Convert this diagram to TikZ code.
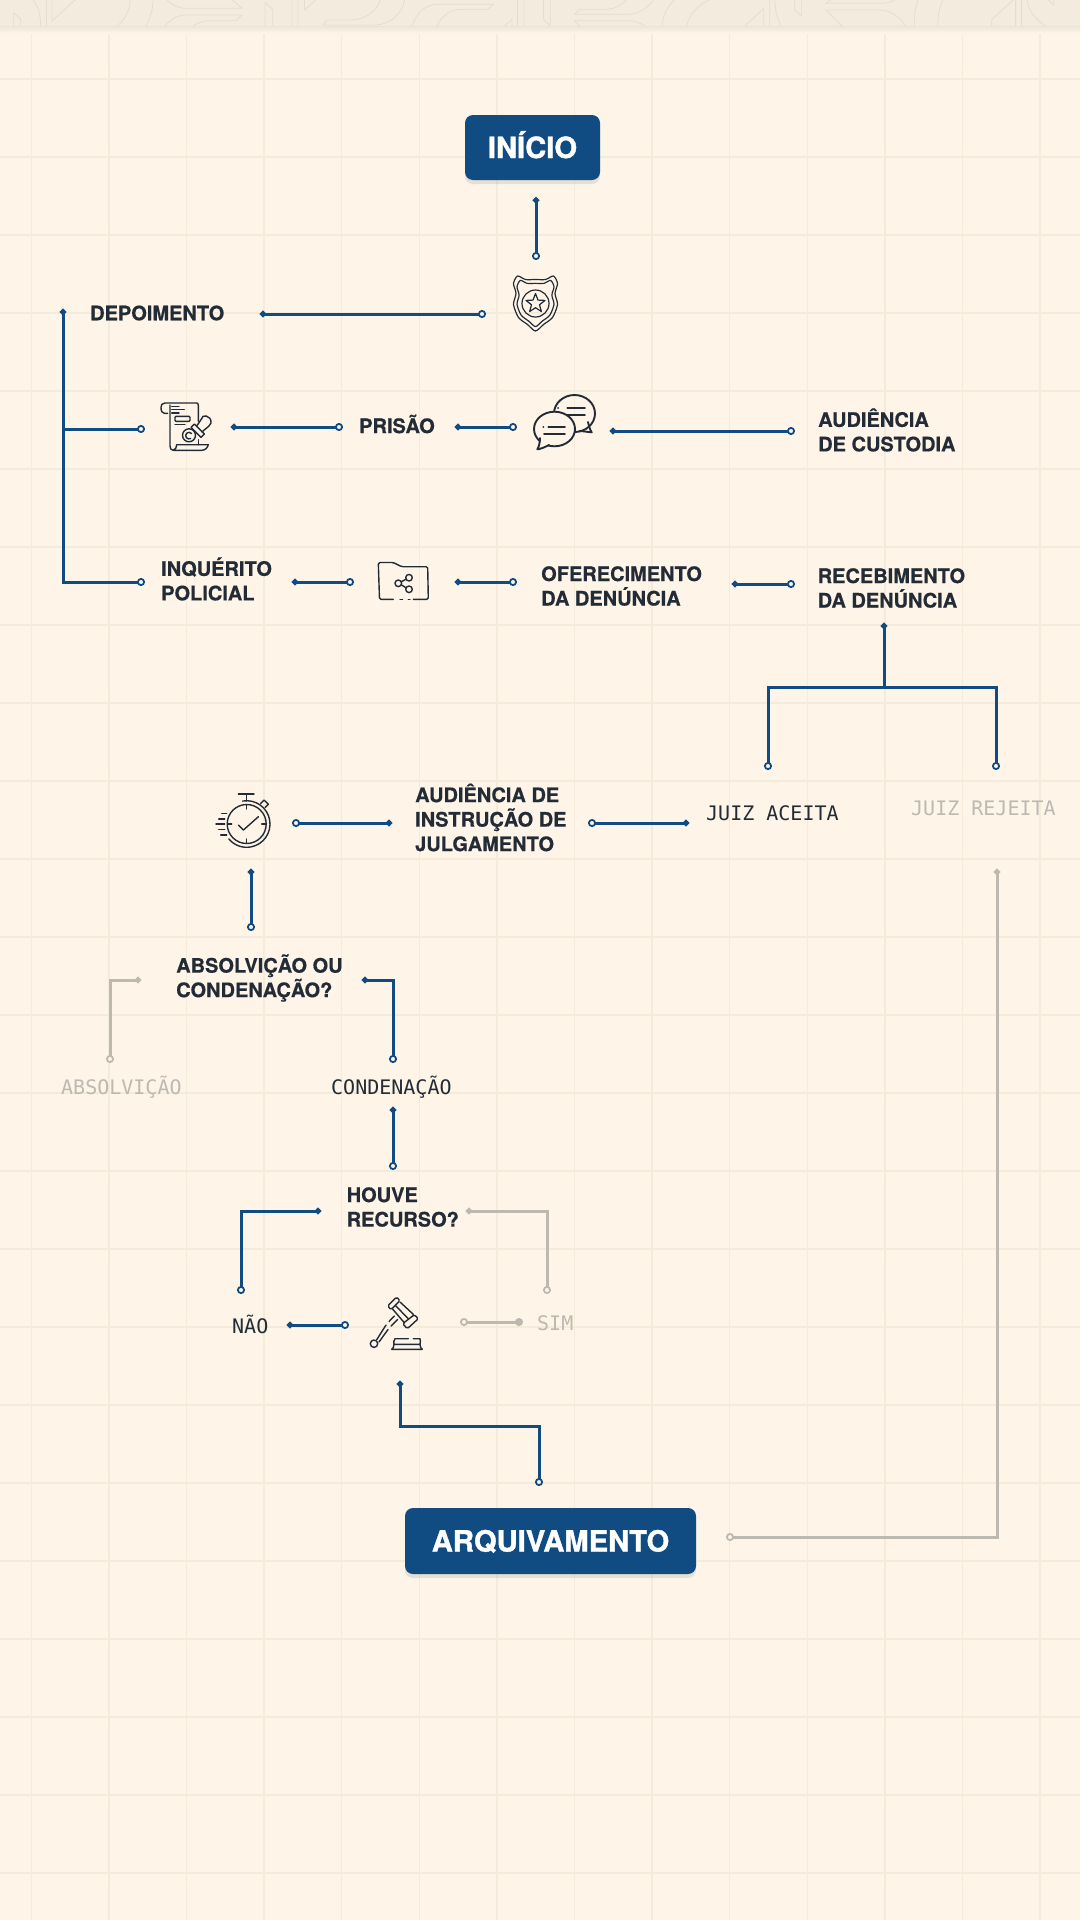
\documentclass[tikz,border=0pt]{standalone}
\usepackage{fontspec}
\setmainfont{TeX Gyre Heros}[BoldFeatures={FakeBold=.5}]
\newfontfamily\heavyfont{TeX Gyre Heros}[BoldFeatures={FakeBold=1.3}]
\setmonofont{DejaVu Sans Mono}
\usetikzlibrary{arrows.meta, shadows}

\definecolor{paper}{HTML}{FEF5E8}
\definecolor{band}{HTML}{F3EBDD}
\definecolor{bandline}{HTML}{E6DDD1}
\definecolor{gridline}{HTML}{F5EBDB}
\definecolor{ink}{HTML}{232C36}
\definecolor{navy}{HTML}{104C82}
\definecolor{mute}{HTML}{BDB9B1}

\tikzset{
	wire/.style={line width=3pt, navy, shorten <=-3pt, shorten >=-4pt,
		{Circle[length=6pt, width=6pt]}-{Circle[open, length=8pt, width=8pt, line width=1.8pt, fill=paper]}},
	wiretail/.style={line width=3pt, navy, shorten >=-4pt,
		-{Circle[open, length=8pt, width=8pt, line width=1.8pt, fill=paper]}},
	off/.style={draw=mute, color=mute},
	lab/.style={anchor=west, inner sep=0pt, align=left, text=ink, font=\bfseries\fontsize{20}{24.5}\selectfont},
	code/.style={anchor=west, inner sep=0pt, text=ink, font=\ttfamily\fontsize{20}{24}\selectfont},
	faded/.style={text=mute},
	endbox/.style={fill=navy, rounded corners=8pt, inner sep=0pt, text=white, text height=21pt, text depth=0pt,
		font=\heavyfont\bfseries\fontsize{29.2}{32}\selectfont,
		drop shadow={shadow xshift=0pt, shadow yshift=-4pt, opacity=.18}},
	icon/.style={inner sep=0pt, minimum size=50pt},
	ico/.style={draw=ink, line width=1.4pt, line cap=round, line join=round},
	badgeicon/.pic={
		\foreach \s in {1,.84}
			\draw[ico, line width=1.2pt, scale=\s] plot[smooth cycle, tension=.45] coordinates {(0,-24)(-10,-24)(-18,-27.5)(-22,-20)(-19.5,-10)(-22,1)(-17,14)(-8,21)(0,27.5)(8,21)(17,14)(22,1)(19.5,-10)(22,-20)(18,-27.5)(10,-24)};
		\draw[ico, line width=1.2pt] (0,0) circle (13.5pt);
		\draw[ico, line width=1.2pt] (0,-10) -- (2.5,-3.4) -- (9.5,-3.1) -- (4,1.3) -- (5.9,8.1) -- (0,4.2) -- (-5.9,8.1) -- (-4,1.3) -- (-9.5,-3.1) -- (-2.5,-3.4) -- cycle;
	},
	scrollicon/.pic={
		\draw[ico] (12.3,-6.7) -- (12.3,-22.7) .. controls (12.3,-24.5) and (11.5,-25) .. (10.7,-25) -- (-21,-25) .. controls (-24,-25) and (-25,-23) .. (-25,-20.7) .. controls (-25,-17) and (-24,-14.7) .. (-21.7,-14.7) -- (-18.3,-14.7);
		\draw[ico] (-16,-23) -- (-16,18) .. controls (-16,20.5) and (-15,22.3) .. (-12.7,22.3) -- (15.7,22.3) .. controls (19,22.3) and (21.5,20) .. (22.3,16.7) -- (-9.3,16.7) .. controls (-9.3,19) and (-10.5,21.5) .. (-12.7,22.3);
		\draw[ico] (12.3,11.7) -- (12.3,16.7);
		\draw[ico] (-14.3,-21.7) -- (-7,-21.7) (-14.3,-18.3) -- (-1.7,-18.3) (-14.3,-15) -- (-7,-15);
		\draw[ico, rounded corners=1pt] (-11,-11.7) rectangle (4,-6.7);
		\draw[ico] (-11,-3.3) -- (-1,-3.3);
		\draw[ico] (3,7.3) circle (6.5pt) (5.5,5.5) arc[start angle=40, end angle=300, radius=3.3pt];
		\draw[ico, fill=paper] (5,-0.7) -- (8.3,-4) -- (18.3,6) -- (15,9.3) -- cycle;
		\draw[ico] (10.7,-2) -- (15.7,-9.3) .. controls (15,-14) and (26,-13) .. (25,-5) .. controls (24.5,-2) and (22,-1.7) .. (16,4);
	},
	chaticon/.pic={
		\draw[ico, line width=1.9pt] (24,0) .. controls (25,4) and (26,8) .. (27.7,10.3) .. controls (23,10) and (19,9) .. (15.5,9);
		\draw[ico, line width=1.9pt] (10.5,-8.5) ellipse [x radius=20.5pt, y radius=18.5pt];
		\draw[ico, line width=1.9pt, fill=paper] (-9.5,7) ellipse [x radius=20.5pt, y radius=17.3pt];
		\draw[ico, line width=1.9pt, fill=paper] (-24,16) .. controls (-24,20) and (-25,25) .. (-26.7,27.3) .. controls (-23,27) and (-19,25) .. (-15,23);
		\draw[ico, line width=1.9pt] (-6,-13.7) -- (-5.8,-13.7) (3.3,-13.7) -- (21,-13.7) (3.3,-7) -- (21,-7);
		\draw[ico, line width=1.9pt] (-20.7,5.3) -- (-20.5,5.3) (-15.7,5.3) -- (1,5.3) (-20,12) -- (1,12);
	},
	foldericon/.pic={
		\draw[ico, rounded corners=1.5pt] (-10.7,17.3) -- (-24.5,17.3) -- (-25.7,-19.5) -- (-10.7,-19.5) -- (-2.3,-15.3) -- (23.7,-15.3) -- (24.3,17.3) -- (9.3,17.3);
		\draw[ico] (-4,17.3) -- (-1.5,17.3) (4.3,17.3) -- (6,17.3);
		\draw[ico] (-5.7,1.3) circle (3.3pt) (5,-4.3) circle (3.3pt) (5,7.3) circle (3.3pt);
		\draw[ico] (-2.8,-.2) -- (2.1,-2.8) (-2.8,2.8) -- (2.1,5.8);
	},
	watchicon/.pic={
		\draw[ico] (0,0) circle (19.5pt);
		\draw[ico] (100:23.3pt) arc[start angle=100, end angle=-140, radius=23.3pt];
		\draw[ico] (0,-19) -- (0,-15) (15,0) -- (19,0) (0,15) -- (0,19) (-19,0) -- (-15,0);
		\draw[ico] (-8.3,1) -- (-3.3,6) -- (11.7,-7.3);
		\draw[ico] (0,-23) -- (0,-30) (-8.3,-30) -- (7.3,-30);
		\draw[ico] (14,-20.7) -- (17.3,-24) -- (21.7,-19.7) -- (18.3,-16.3);
		\draw[ico] (-25,-10.7) -- (-20,-10.7) (-28,-5) -- (-22,-5) (-30.7,0) -- (-22,0) (-28,5.3) -- (-22,5.3) (-26,11) -- (-20,11);
	},
	gavelicon/.pic={
		\draw[ico, rounded corners=1.5pt] (-8.3,-16.5) -- (.7,-25.5) -- (4,-21.8) -- (-5,-12.8) -- cycle;
		\draw[ico, rounded corners=1.5pt] (6.7,1.2) -- (18.3,-7.8) -- (22.3,-3.8) -- (11.3,6.2) -- cycle;
		\draw[ico] (-3.7,-13.8) -- (8.3,0.2) (4,-20.5) -- (17.7,-7.8) (-.5,-17) -- (12.5,-3.5);
		\draw[ico] (-1.7,-6.5) -- (-7,-1) (-10,2.5) -- (-19.3,17.2) (1.7,-3.2) -- (-5,3.5) (-8,7) -- (-17,19.5);
		\draw[ico] (-22,21.2) circle (3.7pt);
		\draw[ico] (12.3,16.2) -- (-1,16.2) .. controls (-2.5,18) and (-2.5,20) .. (-2,21.8) -- (24,21.8) .. controls (24.5,20) and (24.5,18) .. (24,16.2) -- (17.3,16.2);
		\draw[ico] (-2,21.8) .. controls (-2,24) and (-3,26) .. (-4.3,26.8) -- (26.3,26.8) .. controls (25,26) and (24,24) .. (24,21.8);
	},
}

\begin{document}
\begin{tikzpicture}[x=1pt, y=-1pt]
	\useasboundingbox (0,0) rectangle (1080,1920);
	\fill[paper] (0,0) rectangle (1080,1920);

	% squared paper
	\foreach \i in {0,...,13}
		\draw[gridline, line width=1.3pt] (31.3+77.6*\i,0) -- (31.3+77.6*\i,1920);
	\foreach \i in {0,...,23}
		\draw[gridline, line width=1.3pt] (0,79+78*\i) -- (1080,79+78*\i);

	% top band
	\shade[top color=band!90!black!50!paper, bottom color=paper] (0,26) rectangle (1080,33);
	\fill[band] (0,0) rectangle (1080,26);
	\begin{scope}[draw=bandline, line width=.8pt]
		\clip (0,0) rectangle (1080,26);
		\draw (13.8,26) -- (13.8,13) -- (20.7,19) -- (20.7,26);
		\draw (33,0) .. controls (38,6) and (40.6,14) .. (40.6,26);
		\draw (46.5,0) -- (46.5,26) (52,0) -- (52,21) -- (75,0);
		\draw (130,0) .. controls (130,10) and (125,20) .. (117,26);
		\draw (153,0) .. controls (153,10) and (150,18) .. (146,26);
		\draw (167,0) .. controls (172,5) and (178,8.3) .. (186,8.3) -- (242,8.3) -- (232.5,0);
		\draw (165,26) .. controls (170,20) and (177,15) .. (186,15) -- (242,15) -- (236,20.7) -- (210,20.7) .. controls (203,20.7) and (198,23) .. (193,26);
		\draw (265,26) -- (265,2.7) -- (272.7,9.3) -- (272.7,26);
		\draw (292,0) -- (292,26) (298,0) -- (298,26) (304.4,0) -- (304.4,10) -- (315.8,0);
		\draw (380.5,0) .. controls (376,12) and (364,20) .. (351,20) -- (327,20) -- (322.6,25) -- (375,25) .. controls (391,25) and (403,12) .. (404.6,0);
		\draw (412,26) .. controls (416,13) and (426,4.3) .. (437,4.3) -- (493.5,4.3) -- (488,9.3) -- (461,9.3) .. controls (450,9.3) and (441,17) .. (437,26);
		\draw (504.5,26) -- (512,19.3) -- (512,26) (517.6,0) -- (517.6,26) (524,0) -- (524,26);
		\draw (543.4,0) -- (543.4,19) -- (550.3,26) (550.3,0) -- (550.3,26);
		\draw (626,0) .. controls (621,6) and (613,9.3) .. (605.4,9.3) -- (579.6,9.3) -- (574.4,14.3) -- (627.8,14.3) .. controls (638,14.3) and (648,8) .. (653.6,0);
		\draw (579.6,26) -- (574.4,20.7) -- (629.5,20.7) .. controls (635,20.7) and (640,23) .. (645,26);
		\draw (674.3,0) .. controls (668,6) and (662.2,15) .. (662.2,26);
		\draw (708.7,0) .. controls (697,6) and (690,14) .. (686.4,26);
		\draw (744.9,26) -- (763.8,8.3) -- (763.8,26) (769.7,0) -- (769.7,26);
		\draw (775,0) .. controls (775,10) and (777,18) .. (781,26);
		\draw (794.8,0) -- (794.8,10) -- (801.7,16) -- (801.7,0);
		\draw (831,0) -- (825.8,3.3) -- (880.9,3.3) .. controls (886,3.3) and (891,2) .. (894.7,0);
		\draw (842.3,26) -- (825.8,10) -- (879.2,10) .. controls (890,10) and (900,17) .. (905.7,26);
		\draw (917.8,0) .. controls (915,8) and (914.3,17) .. (914.3,26);
		\draw (943,0) .. controls (939,8) and (937.7,17) .. (937.7,26);
		\draw (1013.5,0) -- (991.8,19.3) -- (991.8,26) (1015.6,0) -- (1015.6,26) (1021.4,0) -- (1021.4,26);
		\draw (1027.3,0) .. controls (1028,10) and (1035,20) .. (1046,26);
		\draw (1048,0) -- (1053.8,5) -- (1053.8,0);
	\end{scope}
	\draw[bandline!60!band, line width=.8pt] (0,26) -- (1080,26);

	\node[endbox, minimum width=135pt, minimum height=65pt] (inicio) at (532.5,147.5) {INÍCIO};
	\node[endbox, minimum width=291pt, minimum height=66pt] (arquiv) at (550.5,1541) {ARQUIVAMENTO};

	\node[lab] (depo) at (90,313) {DEPOIMENTO};
	\node[lab] (prisao) at (359,424) {PRISÃO};
	\node[lab] (custodia) at (818,430) {AUDIÊNCIA\\DE CUSTODIA};
	\node[lab] (inquerito) at (161,579) {INQUÉRITO\\POLICIAL};
	\node[lab] (ofer) at (541,586) {OFERECIMENTO\\DA DENÚNCIA};
	\node[lab] (receb) at (817.5,588) {RECEBIMENTO\\DA DENÚNCIA};
	\node[lab] (instrucao) at (415,817.5) {AUDIÊNCIA DE\\INSTRUÇÃO DE\\JULGAMENTO};
	\node[lab] (absolcond) at (176,978) {ABSOLVIÇÃO OU\\CONDENAÇÃO?};
	\node[lab] (recurso) at (346.5,1207) {HOUVE\\RECURSO?};

	\node[code] (aceita) at (706,813) {JUIZ ACEITA};
	\node[code, faded] (rejeita) at (911,808) {JUIZ REJEITA};
	\node[code, faded] (absol) at (61,1087) {ABSOLVIÇÃO};
	\node[code] (conden) at (331,1087) {CONDENAÇÃO};
	\node[code] (nao) at (232,1324) {NÃO};
	\node[code, faded] (sim) at (537,1323) {SIM};

	\node[icon] (badge) at (535.5,303.5) {};
	\node[icon] (scroll) at (186,428) {};
	\node[icon] (chat) at (564,422) {};
	\node[icon] (folder) at (404,582) {};
	\node[icon] (watch) at (246.7,824) {};
	\node[icon] (gavel) at (396,1322.5) {};
	\pic at (badge.center) {badgeicon};
	\pic at (scroll.center) {scrollicon};
	\pic at (chat.center) {chaticon};
	\pic at (folder.center) {foldericon};
	\pic at (watch.center) {watchicon};
	\pic at (gavel.center) {gavelicon};

	\coordinate (forkone) at ([shift={(-27,116)}]depo.west);
	\coordinate (split) at ([shift={(66.5,99)}]receb.west);

	\path[wire] ([shift={(3.5,20)}]inicio.south) edge ([shift={(.5,-47.5)}]badge.center);
	\path[wire] ([shift={(173,1)}]depo.west) edge ([shift={(-53.5,10.5)}]badge.center);
	\draw[wire] ([shift={(-27,-1)}]depo.west) |- ([shift={(-20,3)}]inquerito.west);
	\path[wiretail] (forkone) edge ([shift={(-45,1)}]scroll.center);
	\path[wire] ([shift={(48,-1)}]scroll.center) edge ([shift={(-20,3)}]prisao.west);
	\path[wire] ([shift={(99,3)}]prisao.west) edge ([shift={(-51,5)}]chat.center);
	\path[wire] ([shift={(49,9)}]chat.center) edge ([shift={(-27,1)}]custodia.west);
	\path[wire] ([shift={(134,3)}]inquerito.west) edge ([shift={(-54,0)}]folder.center);
	\path[wire] ([shift={(54,0)}]folder.center) edge ([shift={(-28,-4)}]ofer.west);
	\path[wire] ([shift={(194,-2)}]ofer.west) edge ([shift={(-26.5,-4)}]receb.west);
	\draw[wire] ([shift={(66.5,38)}]receb.west) -- (split) -| ([shift={(62,-47)}]aceita.west);
	\draw[wiretail] (split) -| ([shift={(85,-42)}]rejeita.west);
	\path[wire] ([shift={(-20,10)}]aceita.west) edge ([shift={(177,5.5)}]instrucao.west);
	\path[wire] ([shift={(-26,5.5)}]instrucao.west) edge ([shift={(49.3,-1)}]watch.center);
	\path[wire] ([shift={(4.3,48)}]watch.center) edge ([shift={(75,-51)}]absolcond.west);
	\draw[wire, off] ([shift={(-38,2)}]absolcond.west) -| ([shift={(49,-28)}]absol.west);
	\draw[wire] ([shift={(189,2)}]absolcond.west) -| ([shift={(62,-28)}]conden.west);
	\path[wire] ([shift={(62,23)}]conden.west) edge ([shift={(46.5,-41)}]recurso.west);
	\draw[wire] ([shift={(-28.5,4)}]recurso.west) -| ([shift={(9,-34)}]nao.west);
	\draw[wire, off] ([shift={(122.5,4)}]recurso.west) -| ([shift={(10,-33)}]sim.west);
	\path[wire] ([shift={(58,1)}]nao.west) edge ([shift={(-51,2.5)}]gavel.center);
	\path[wire, off] ([shift={(-18,-1)}]sim.west) edge ([shift={(68,-.5)}]gavel.center);
	\draw[wire] ([shift={(4,61.5)}]gavel.center) -- ++(0,42) -| ([shift={(-11.5,-59)}]arquiv.center);
	\draw[wire, off] ([shift={(86,64)}]rejeita.west) |- ([shift={(179.5,-4)}]arquiv.center);
\end{tikzpicture}
\end{document}
